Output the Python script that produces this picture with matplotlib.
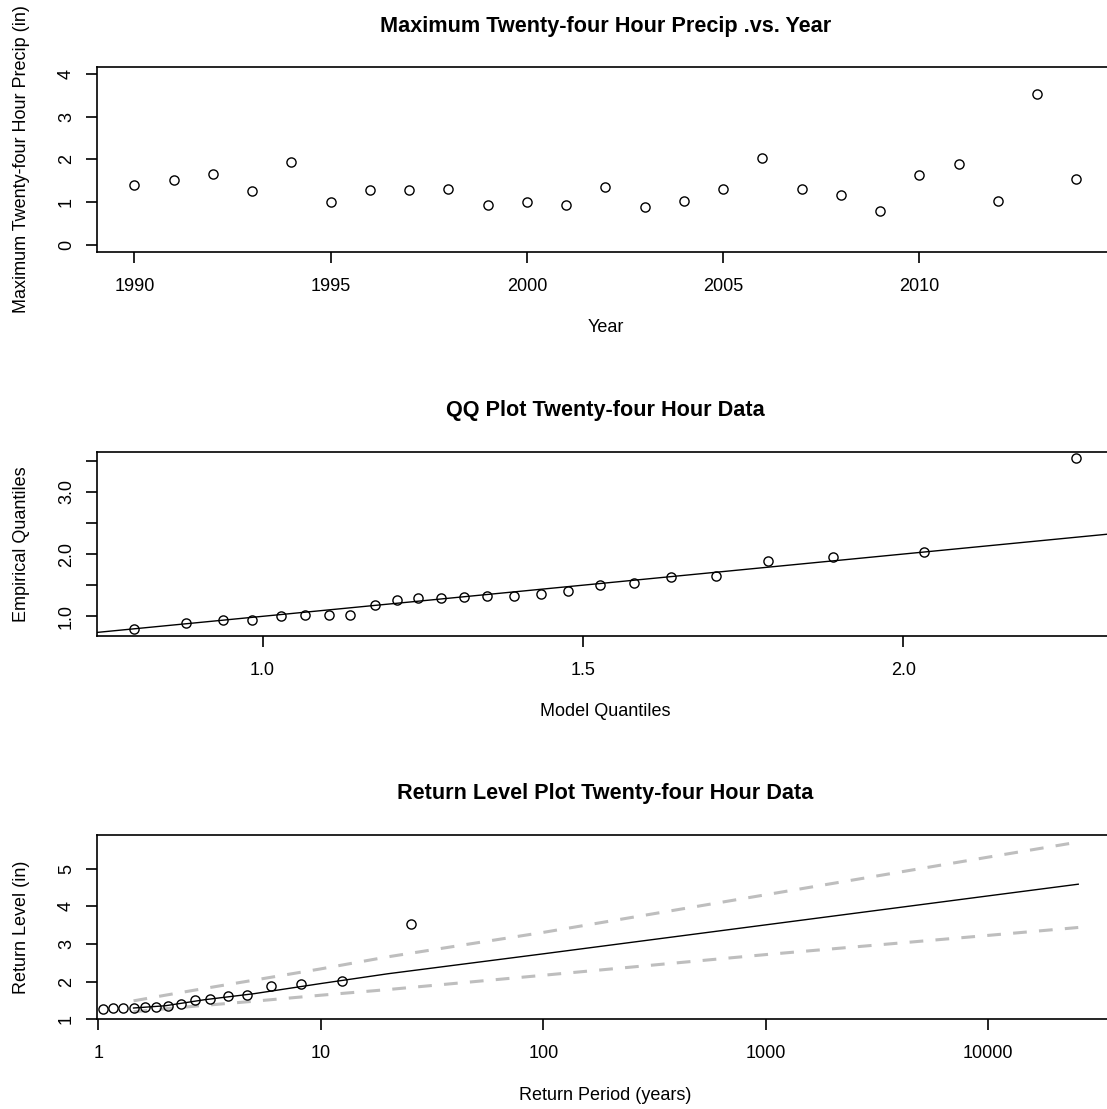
import numpy as np
import matplotlib
matplotlib.use('Agg')
import matplotlib.pyplot as plt

plt.rcParams['font.family'] = ['Liberation Sans', 'DejaVu Sans']

# ---- data ----
years = list(range(1990, 2015))
precip = [1.40, 1.51, 1.65, 1.27, 1.95, 1.01, 1.29, 1.29, 1.32, 0.94,
          1.00, 0.94, 1.36, 0.89, 1.02, 1.32, 2.03, 1.31, 1.18, 0.80,
          1.63, 1.89, 1.02, 3.54, 1.54]

model_q = [0.800, 0.880, 0.938, 0.984, 1.028, 1.066, 1.103, 1.137, 1.175,
           1.209, 1.243, 1.279, 1.314, 1.351, 1.392, 1.434, 1.477, 1.526,
           1.579, 1.638, 1.707, 1.789, 1.891, 2.033, 2.270]
empirical_q = [0.80, 0.89, 0.94, 0.94, 1.00, 1.02, 1.02, 1.02, 1.18, 1.27,
               1.29, 1.30, 1.31, 1.32, 1.32, 1.36, 1.40, 1.51, 1.54, 1.63,
               1.65, 1.89, 1.95, 2.03, 3.54]

rp_points = [1.05, 1.16, 1.29, 1.44, 1.62, 1.82, 2.06, 2.35, 2.72, 3.19,
             3.81, 4.68, 5.99, 8.16, 12.5, 25.5]
rl_points = [1.27, 1.29, 1.30, 1.31, 1.32, 1.32, 1.36, 1.40, 1.51, 1.54,
             1.63, 1.65, 1.89, 1.95, 2.03, 3.54]

rl_period = [1.44, 2, 3, 5, 10, 20, 100, 1000, 10000, 25350]
rl_fit = [1.30, 1.36, 1.52, 1.68, 1.95, 2.21, 2.74, 3.51, 4.28, 4.59]
rl_upper = [1.49, 1.64, 1.82, 2.04, 2.34, 2.66, 3.31, 4.31, 5.31, 5.71]
rl_lower = [1.20, 1.28, 1.37, 1.48, 1.64, 1.79, 2.17, 2.72, 3.23, 3.44]

W, H = 1107, 1109
FS = 13
TITLE_FS = 15.6
LEFT, RIGHT = 96.7, 1114.0
PANEL_H = 184.4

fig = plt.figure(figsize=(W / 100, H / 100), dpi=100, facecolor='white')


def make_axes(bottom_px):
    ax = fig.add_axes([LEFT / W, 1 - bottom_px / H, (RIGHT - LEFT) / W, PANEL_H / H])
    for s in ax.spines.values():
        s.set_linewidth(1.2)
        s.set_color('black')
    ax.tick_params(direction='out', length=7.7, width=1.2, labelsize=FS,
                   colors='black')
    ax.tick_params(axis='x', pad=11.0)
    ax.tick_params(axis='y', pad=8.0, labelrotation=90)
    ax.minorticks_off()
    return ax


def finish(ax, title, xlabel, ylabel):
    for lbl in ax.get_yticklabels():
        lbl.set_va('center')
    ax.text(0.5, 1 + 35.6 / PANEL_H, title, transform=ax.transAxes,
            ha='center', va='baseline', fontsize=TITLE_FS, fontweight='bold')
    ax.set_xlabel(xlabel, fontsize=FS, va='baseline')
    ax.xaxis.set_label_coords(0.5, -80.5 / PANEL_H)
    ax.set_ylabel(ylabel, fontsize=FS, va='baseline', rotation_mode='anchor')
    ax.yaxis.set_label_coords((26 - LEFT) / (RIGHT - LEFT), 0.5)


circle = dict(marker='o', linestyle='none', markersize=6.6,
              markerfacecolor='none', markeredgecolor='black',
              markeredgewidth=1.0)

# panel 1: annual maxima vs year
ax1 = make_axes(251.7)
ax1.plot(years, precip, **circle)
ax1.set_xlim(1989.04, 2014.96)
ax1.set_ylim(-0.16, 4.16)
ax1.set_xticks([1990, 1995, 2000, 2005, 2010])
ax1.set_yticks([0, 1, 2, 3, 4])
finish(ax1, 'Maximum Twenty-four Hour Precip .vs. Year', 'Year',
       'Maximum Twenty-four Hour Precip (in)')

# panel 2: QQ plot
ax2 = make_axes(636.0)
ax2.plot(model_q, empirical_q, **circle)
ax2.axline((1.0, 1.0), slope=1.0, color='black', lw=1.0)
ax2.set_xlim(0.741, 2.329)
ax2.set_ylim(0.684, 3.645)
ax2.set_xticks([1.0, 1.5, 2.0])
ax2.set_xticklabels(['1.0', '1.5', '2.0'])
ax2.set_yticks([1.0, 1.5, 2.0, 2.5, 3.0, 3.5])
ax2.set_yticklabels(['1.0', '', '2.0', '', '3.0', ''])
finish(ax2, 'QQ Plot Twenty-four Hour Data', 'Model Quantiles',
       'Empirical Quantiles')

# panel 3: return level plot
ax3 = make_axes(1019.3)
ax3.set_xscale('log')
ax3.plot(rl_period, rl_upper, color='#BEBEBE', lw=2.2, dashes=(4.5, 4))
ax3.plot(rl_period, rl_lower, color='#BEBEBE', lw=2.2, dashes=(4.5, 4))
ax3.plot(rl_period, rl_fit, color='black', lw=1.0)
ax3.plot(rp_points, rl_points, **circle)
ax3.set_xlim(0.9835, 36700)
ax3.set_ylim(1.0, 5.90)
ax3.set_xticks([1, 10, 100, 1000, 10000])
ax3.set_xticklabels(['1', '10', '100', '1000', '10000'])
ax3.minorticks_off()
ax3.set_yticks([1, 2, 3, 4, 5])
finish(ax3, 'Return Level Plot Twenty-four Hour Data', 'Return Period (years)',
       'Return Level (in)')

fig.savefig('out.png', dpi=100, facecolor='white')
